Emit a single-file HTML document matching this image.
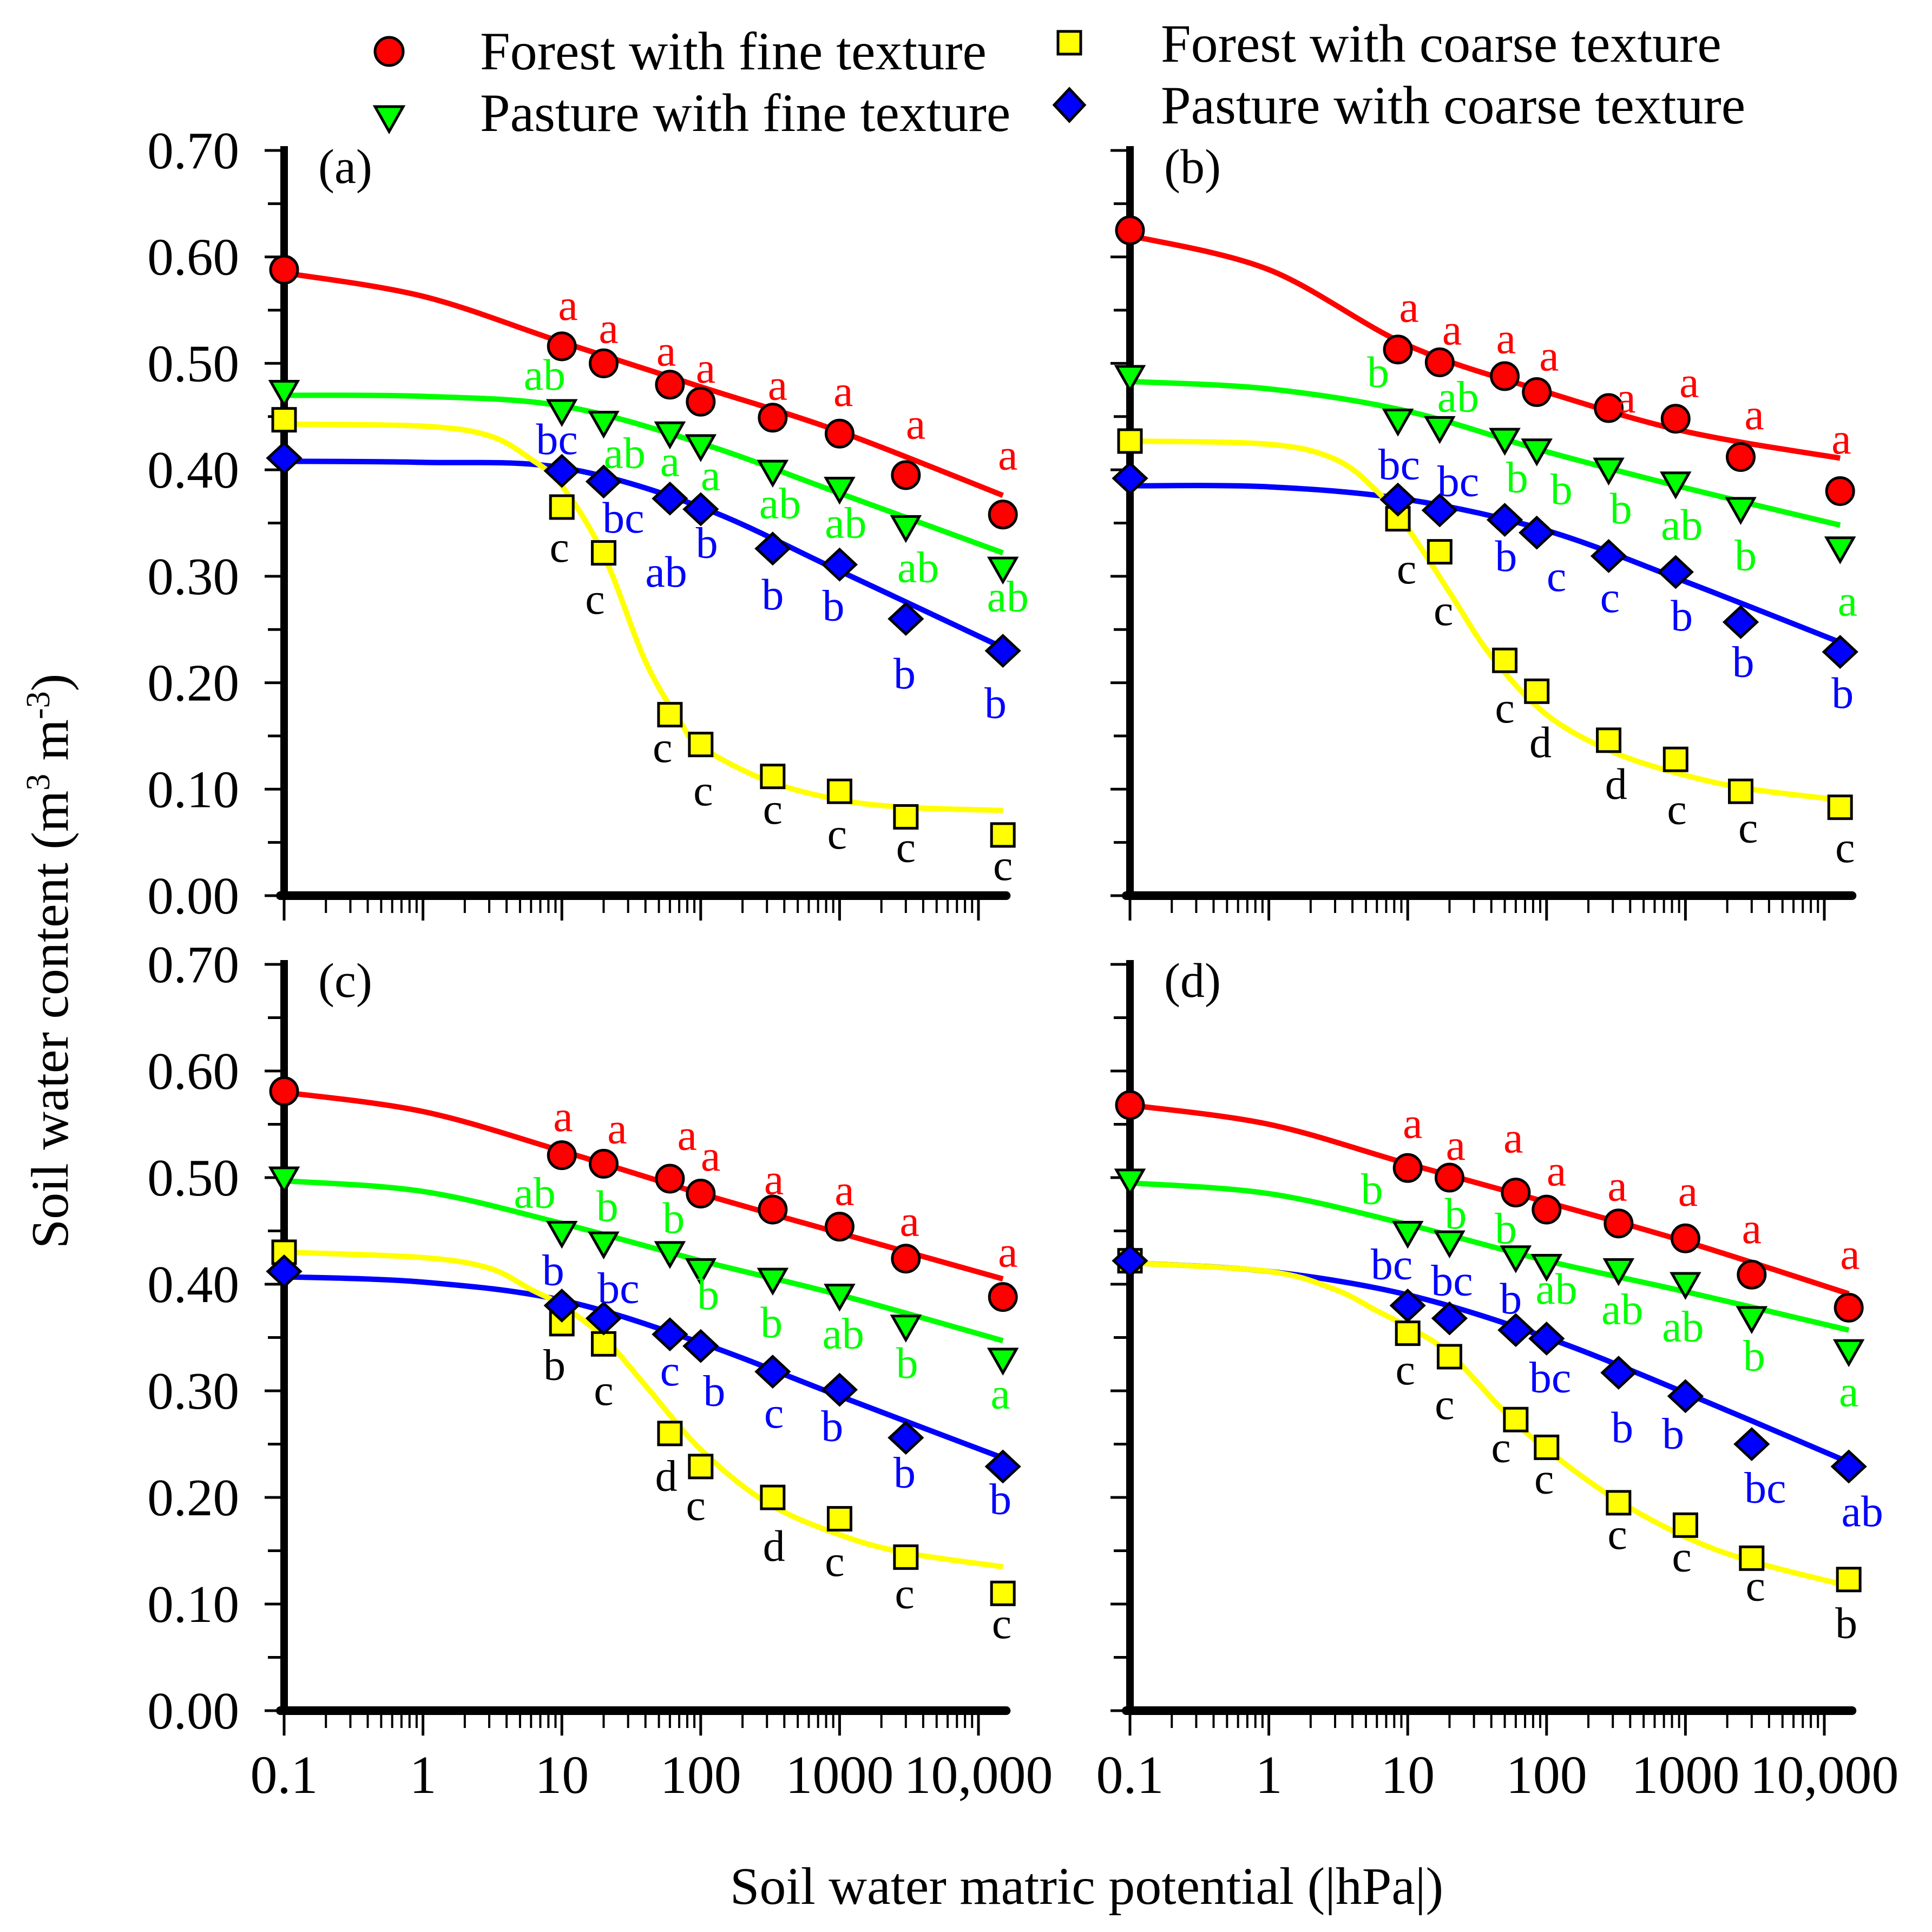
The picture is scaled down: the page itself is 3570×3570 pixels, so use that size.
<!DOCTYPE html>
<html><head><meta charset="utf-8"><style>
html,body{margin:0;padding:0;background:#fff}
svg{display:block}
text{font-family:"Liberation Serif","Times New Roman",serif;fill:#000}
</style></head><body>
<svg id="chart" xmlns="http://www.w3.org/2000/svg" width="3570" height="3570" viewBox="0 0 3570 3570">
<rect width="3570" height="3570" fill="#fff"/>
<g id="legend">
 <g>
  <circle cx="719" cy="95" r="26" fill="#f00" stroke="#000" stroke-width="5"/>
  <text x="887" y="128" font-size="100">Forest with fine texture</text>
 </g>
 <g>
  <path d="M693,197 L745,197 L719,243 Z" fill="#0f0" stroke="#000" stroke-width="5"/>
  <text x="887" y="242" font-size="100">Pasture with fine texture</text>
 </g>
 <g>
  <rect x="1955" y="58" width="42" height="42" fill="#ff0" stroke="#000" stroke-width="5"/>
  <text x="2145" y="114" font-size="100">Forest with coarse texture</text>
 </g>
 <g>
  <path d="M1976,164 L2004,194 L1976,224 L1948,194 Z" fill="#00f" stroke="#000" stroke-width="5"/>
  <text x="2145" y="228" font-size="100">Pasture with coarse texture</text>
 </g>
</g>
<text transform="translate(125,1776) rotate(-90)" text-anchor="middle" font-size="98">Soil water content (m<tspan baseline-shift="super" font-size="62">3</tspan> m<tspan baseline-shift="super" font-size="62">-3</tspan>)</text>
<text x="2008" y="3518" text-anchor="middle" font-size="98">Soil water matric potential (|hPa|)</text>
<g id="panels"></g>
</svg>
<script>
const xsAC = [0.1,10,20,60,100,330,1000,3000,15000];
const xsB = [0.1,8.5,17,50,85,280,850,2500,13000];
const xsD = [0.1,10,20,60,100,330,1000,3000,15000];
const seriesNames = ['forest-fine','pasture-fine','forest-coarse','pasture-coarse'];
const seriesColors = ['#ff0000','#00ff00','#ffff00','#0000ff'];
const labelColors = ['#ff0000','#00ff00','#000000','#0000ff'];
const yTickLabels = ['0.00','0.10','0.20','0.30','0.40','0.50','0.60','0.70'];
const xTickLabels = ['0.1','1','10','100','1000','10,000'];
const curveX = [0.1,1,10,100,1000,15000];
const curveXB = [0.1,1,10,100,1000,13000];
// panel a
const redA = [0.588,0.516,0.500,0.480,0.464,0.449,0.434,0.395,0.358];
const greenA = [0.473,0.455,0.444,0.434,0.422,0.398,0.382,0.346,0.307];
const yellowA = [0.447,0.365,0.322,0.170,0.142,0.112,0.098,0.074,0.057];
const blueA = [0.411,0.399,0.389,0.373,0.363,0.326,0.311,0.260,0.230];
const redCurveA = [0.585,0.563,0.520,0.478,0.436,0.376];
const greenCurveA = [0.470,0.469,0.460,0.425,0.378,0.322];
const blueCurveA = [0.408,0.407,0.402,0.365,0.305,0.233];
const yellowCurveXA = [0.1,1,3,6,10,20,40,70,100,300,1000,3000,15000];
const yellowCurveA = [0.443,0.441,0.432,0.41,0.385,0.32,0.22,0.165,0.14,0.108,0.09,0.083,0.08];
const redLblA = ['a','a','a','a','a','a','a','a'];
const greenLblA = ['ab','ab','a','a','ab','ab','ab','ab'];
const yellowLblA = ['c','c','c','c','c','c','c','c'];
const blueLblA = ['bc','bc','ab','b','b','b','b','b'];
// panel b
const redB = [0.625,0.513,0.501,0.488,0.473,0.458,0.448,0.412,0.380];
const greenB = [0.487,0.446,0.439,0.428,0.418,0.400,0.387,0.363,0.326];
const yellowB = [0.427,0.354,0.323,0.221,0.192,0.146,0.128,0.098,0.083];
const blueB = [0.392,0.372,0.362,0.353,0.341,0.319,0.304,0.257,0.229];
const redCurveB = [0.62,0.588,0.517,0.473,0.436,0.411];
const greenCurveB = [0.483,0.476,0.455,0.417,0.383,0.348];
const blueCurveB = [0.385,0.384,0.372,0.343,0.295,0.238];
const yellowCurveXB = [0.1,1,3,6,10,20,40,100,300,1000,3000,13000];
const yellowCurveB = [0.427,0.424,0.41,0.38,0.345,0.285,0.225,0.17,0.135,0.113,0.10,0.09];
const redLblB = ['a','a','a','a','a','a','a','a'];
const greenLblB = ['b','ab','b','b','b','ab','b','a'];
const yellowLblB = ['c','c','c','d','d','c','c','c'];
const blueLblB = ['bc','bc','b','c','c','b','b','b'];
// panel c
const redC = [0.581,0.521,0.513,0.499,0.485,0.470,0.454,0.424,0.388];
const greenC = [0.499,0.448,0.438,0.429,0.413,0.404,0.389,0.360,0.329];
const yellowC = [0.430,0.363,0.344,0.260,0.229,0.200,0.180,0.144,0.110];
const blueC = [0.412,0.380,0.368,0.353,0.342,0.318,0.301,0.256,0.229];
const redCurveC = [0.580,0.562,0.525,0.485,0.448,0.405];
const greenCurveC = [0.497,0.487,0.457,0.422,0.390,0.347];
const blueCurveC = [0.407,0.402,0.385,0.345,0.295,0.237];
const yellowCurveXC = [0.1,1,3,6,10,20,40,100,300,1000,3000,15000];
const yellowCurveC = [0.430,0.425,0.415,0.395,0.38,0.35,0.305,0.245,0.195,0.165,0.148,0.135];
const redLblC = ['a','a','a','a','a','a','a','a'];
const greenLblC = ['ab','b','b','b','b','ab','b','a'];
const yellowLblC = ['b','c','d','c','d','c','c','c'];
const blueLblC = ['b','bc','c','b','c','b','b','b'];
// panel d
const redD = [0.568,0.509,0.500,0.486,0.470,0.457,0.443,0.409,0.378];
const greenD = [0.497,0.448,0.439,0.425,0.417,0.413,0.400,0.368,0.337];
const yellowD = [0.422,0.354,0.332,0.273,0.247,0.195,0.174,0.143,0.123];
const blueD = [0.422,0.380,0.368,0.357,0.349,0.317,0.295,0.250,0.229];
const redCurveD = [0.568,0.550,0.513,0.477,0.440,0.391];
const greenCurveD = [0.495,0.485,0.456,0.422,0.393,0.357];
const blueCurveD = [0.42,0.412,0.39,0.35,0.298,0.233];
const yellowCurveXD = [0.1,1,3,6,10,20,50,100,300,1000,3000,15000];
const yellowCurveD = [0.42,0.412,0.395,0.375,0.36,0.335,0.28,0.245,0.2,0.163,0.14,0.117];
const redLblD = ['a','a','a','a','a','a','a','a'];
const greenLblD = ['b','b','b','ab','ab','ab','b','a'];
const yellowLblD = ['c','c','c','c','c','c','c','b'];
const blueLblD = ['bc','bc','b','bc','b','b','bc','ab'];

const OFF = {
 a:[[[5,-33],[4,-28],[-3,-27],[4,-27],[4,-26],[3,-34],[8,-41],[4,-48]],
    [[-14,-29],[17,25],[0,23],[8,24],[6,26],[5,28],[10,33],[4,23]],
    [[-2,33],[-7,38],[-6,27],[2,38],[0,27],[-2,35],[0,25],[0,25]],
    [[-4,-25],[16,30],[-3,60],[5,28],[0,38],[-5,34],[-1,45],[-6,43]]],
 b:[[[9,-34],[10,-26],[1,-30],[10,-29],[14,-8],[11,-29],[11,-34],[1,-42]],
    [[-16,-39],[15,-25],[10,31],[20,32],[10,32],[5,34],[4,38],[6,43]],
    [[7,41],[3,48],[0,39],[3,42],[6,36],[1,41],[6,30],[4,33]],
    [[1,-28],[15,-23],[1,30],[16,36],[1,34],[5,36],[2,33],[2,34]]],
 c:[[[1,-31],[11,-28],[14,-35],[8,-30],[1,-24],[4,-29],[3,-30],[4,-36]],
    [[-22,-32],[3,-30],[3,-28],[6,20],[-1,35],[3,31],[1,30],[-2,28]],
    [[-6,34],[0,38],[-3,35],[-4,32],[1,40],[-4,35],[-1,30],[-1,25]],
    [[-7,-28],[12,-24],[0,30],[11,37],[1,34],[-6,30],[-1,29],[-2,27]]],
 d:[[[4,-36],[5,-26],[-2,-44],[8,-31],[-1,-30],[2,-38],[0,-37],[1,-43]],
    [[-29,-35],[5,-23],[-8,-23],[8,19],[3,32],[-2,35],[2,31],[0,33]],
    [[-2,30],[-4,39],[-12,23],[-2,26],[-1,26],[-3,26],[3,23],[-2,36]],
    [[-13,-33],[2,-30],[-4,-25],[3,32],[3,45],[-10,31],[11,36],[11,37]]]
};
const S = 2.277;
const NS = 'http://www.w3.org/2000/svg';
const panels = [
 {id:'a',x0:525,top:278,bot:1655,xs:xsAC,pts:[redA,greenA,yellowA,blueA],cx:curveX,curves:[redCurveA,greenCurveA,blueCurveA],ycx:yellowCurveXA,yc:yellowCurveA,lbl:[redLblA,greenLblA,yellowLblA,blueLblA],ylabels:true,xlabels:false},
 {id:'b',x0:2088,top:278,bot:1655,xs:xsB,pts:[redB,greenB,yellowB,blueB],cx:curveXB,curves:[redCurveB,greenCurveB,blueCurveB],ycx:yellowCurveXB,yc:yellowCurveB,lbl:[redLblB,greenLblB,yellowLblB,blueLblB],ylabels:false,xlabels:false},
 {id:'c',x0:525,top:1782,bot:3161,xs:xsAC,pts:[redC,greenC,yellowC,blueC],cx:curveX,curves:[redCurveC,greenCurveC,blueCurveC],ycx:yellowCurveXC,yc:yellowCurveC,lbl:[redLblC,greenLblC,yellowLblC,blueLblC],ylabels:true,xlabels:true},
 {id:'d',x0:2088,top:1782,bot:3161,xs:xsD,pts:[redD,greenD,yellowD,blueD],cx:curveX,curves:[redCurveD,greenCurveD,blueCurveD],ycx:yellowCurveXD,yc:yellowCurveD,lbl:[redLblD,greenLblD,yellowLblD,blueLblD],ylabels:false,xlabels:true}
];
const DEC = 256.6;
function mk(tag, attrs, parent){const e=document.createElementNS(NS,tag);for(const k in attrs)e.setAttribute(k,attrs[k]);parent.appendChild(e);return e;}
function smoothPath(P){
 let d='M'+P[0][0].toFixed(1)+','+P[0][1].toFixed(1);
 for(let i=0;i<P.length-1;i++){
  const p0=P[Math.max(0,i-1)],p1=P[i],p2=P[i+1],p3=P[Math.min(P.length-1,i+2)];
  const c1=[p1[0]+(p2[0]-p0[0])/6,p1[1]+(p2[1]-p0[1])/6];
  const c2=[p2[0]-(p3[0]-p1[0])/6,p2[1]-(p3[1]-p1[1])/6];
  d+=' C'+c1[0].toFixed(1)+','+c1[1].toFixed(1)+' '+c2[0].toFixed(1)+','+c2[1].toFixed(1)+' '+p2[0].toFixed(1)+','+p2[1].toFixed(1);
 }
 return d;
}
const root=document.getElementById('panels');
panels.forEach(p=>{
 const xS=v=>p.x0+(Math.log10(v)+1)*DEC;
 const yS=v=>p.bot-(p.bot-p.top)*v/0.7;
 const g=mk('g',{},root);
 
 
 const cols=[0,1,3];
 p.curves.forEach((c,k)=>{
  const path=mk('path',{d:smoothPath(c.map((v,i)=>[xS(p.cx[i]),yS(v)])),fill:'none',stroke:seriesColors[cols[k]],'stroke-width':10,'stroke-linejoin':'round'},g);
  
  
 });
 const yp=mk('path',{d:smoothPath(p.yc.map((v,i)=>[xS(p.ycx[i]),yS(v)])),fill:'none',stroke:'#ffff00','stroke-width':10},g);
 
 
 const xEnd=p.x0+5.2*DEC;
 const ax=mk('g',{},g);
 
 
 mk('line',{x1:p.x0,y1:p.top-8,x2:p.x0,y2:p.bot+8,stroke:'#000','stroke-width':14},ax);
 mk('line',{x1:p.x0-7,y1:p.bot,x2:xEnd,y2:p.bot,stroke:'#000','stroke-width':16,'stroke-linecap':'round'},ax);
 for(let i=0;i<=14;i++){
  const v=i*0.05,y=yS(v),major=i%2===0;
  mk('line',{x1:p.x0-(major?36:30),y1:y,x2:p.x0,y2:y,stroke:'#000','stroke-width':5},ax);
  if(major&&p.ylabels){
   const t=mk('text',{x:442,y:y+33,'text-anchor':'end','font-size':97},ax);
   t.textContent=yTickLabels[i/2];
   
   
  }
 }
 for(let e=-1;e<=4;e++){
  const x=xS(Math.pow(10,e));
  mk('line',{x1:x,y1:p.bot,x2:x,y2:p.bot+46,stroke:'#000','stroke-width':5},ax);
  if(e<4)for(let m=2;m<=9;m++){const xm=xS(m*Math.pow(10,e));mk('line',{x1:xm,y1:p.bot,x2:xm,y2:p.bot+32,stroke:'#000','stroke-width':4},ax);}
  if(p.xlabels){
   const t=mk('text',{x:x,y:p.bot+152,'text-anchor':'middle','font-size':100},ax);
   t.textContent=xTickLabels[e+1];
   
   
  }
 }
 const pl=mk('text',{x:p.x0+63,y:p.top+60,'font-size':90},g);
 pl.textContent='('+p.id+')';
 
 
 [0,1,2,3].forEach(s=>{
  const sg=mk('g',{},g);
  
  
  p.pts[s].forEach((v,i)=>{
   const x=xS(p.xs[i]),y=yS(v);let m;
   if(s===0)m=mk('circle',{cx:x,cy:y,r:25,fill:'#f00',stroke:'#000','stroke-width':5},sg);
   else if(s===1)m=mk('path',{d:`M${x-25},${y-20} L${x+25},${y-20} L${x},${y+24} Z`,fill:'#0f0',stroke:'#000','stroke-width':5},sg);
   else if(s===2)m=mk('rect',{x:x-21,y:y-21,width:42,height:42,fill:'#ff0',stroke:'#000','stroke-width':5},sg);
   else m=mk('path',{d:`M${x},${y-28} L${x+30},${y} L${x},${y+28} L${x-30},${y} Z`,fill:'#00f',stroke:'#000','stroke-width':5},sg);
   
   
   if(i>0){
    const o=OFF[p.id][s][i-1];
    const t=mk('text',{x:x+o[0]*S,y:y+o[1]*S+26,'text-anchor':'middle','font-size':82,fill:labelColors[s]},sg);
    t.style.fill=labelColors[s];
    t.textContent=p.lbl[s][i-1];
    
    
   }
  });
 });
});
</script>
</body></html>
